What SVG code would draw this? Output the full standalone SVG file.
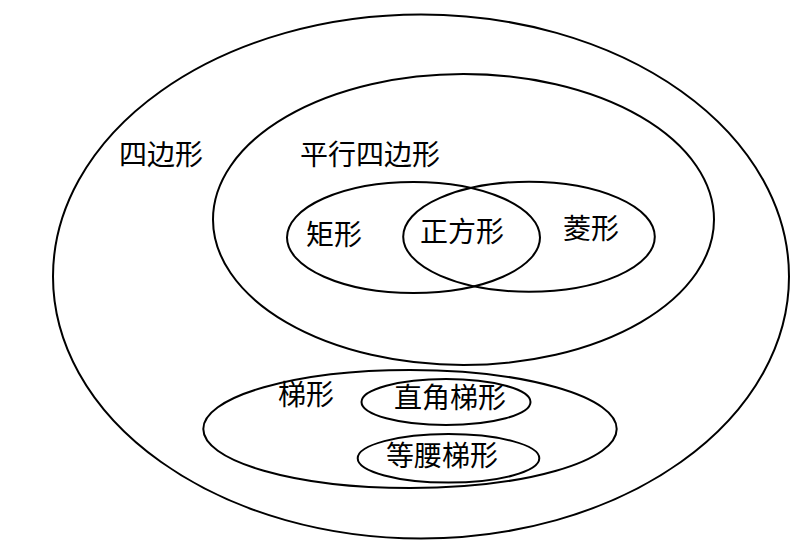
<svg xmlns="http://www.w3.org/2000/svg" width="800" height="543" viewBox="0 0 800 543">
<style>
.e{fill:none;stroke:#000;stroke-width:2}
.t{font-family:"Noto Sans CJK SC","Noto Sans",sans-serif;font-size:28px;fill:#000;text-anchor:middle;dominant-baseline:central}
</style>
<rect width="800" height="543" fill="#fff"/>
<g id="quadrilateral"><ellipse class="e" cx="421" cy="276.5" rx="368" ry="262"/><text class="t" x="161" y="153">四边形</text></g>
<g id="parallelogram"><ellipse class="e" cx="463.5" cy="219.5" rx="250.5" ry="145.5"/><text class="t" x="370" y="153">平行四边形</text></g>
<g id="rectangle"><ellipse class="e" cx="413.5" cy="237.5" rx="126.5" ry="55.5"/><text class="t" x="334" y="233">矩形</text></g>
<g id="rhombus"><ellipse class="e" cx="529" cy="236.7" rx="125.8" ry="55"/><text class="t" x="591" y="227">菱形</text></g>
<g id="square"><text class="t" x="462" y="230">正方形</text></g>
<g id="trapezoid"><ellipse class="e" cx="410" cy="429" rx="206.7" ry="59"/><text class="t" x="306" y="393">梯形</text></g>
<g id="right-trapezoid"><ellipse class="e" cx="446" cy="402" rx="84.5" ry="23"/><text class="t" x="450" y="396">直角梯形</text></g>
<g id="isosceles-trapezoid"><ellipse class="e" cx="448.5" cy="458.3" rx="90.8" ry="24.3"/><text class="t" x="442" y="454">等腰梯形</text></g>
<g id="connectors"/>
</svg>
